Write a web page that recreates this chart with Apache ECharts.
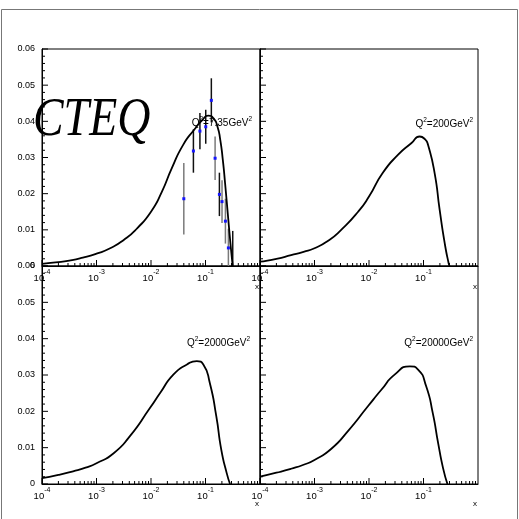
<!DOCTYPE html>
<html><head><meta charset="utf-8">
<script src="https://cdn.jsdelivr.net/npm/echarts@6/dist/echarts.min.js"></script>
<style>html,body{margin:0;padding:0;background:#fff}#c{width:519px;height:519px}</style>
</head><body><div id="c"></div>
<script>
// ---- data ----
const panelLabels = ['7.35', '200', '2000', '20000']; // Q^2 values in GeV^2
const yTickValues = [0, 0.01, 0.02, 0.03, 0.04, 0.05, 0.06];
const xTickExponents = [-4, -3, -2, -1];

// curve Q2 = 7.35
const c1x = [0.0001, 0.000178, 0.000316, 0.000562, 0.001, 0.00178, 0.00316, 0.00562, 0.01, 0.0158, 0.024, 0.0389, 0.063, 0.089, 0.112, 0.141, 0.166, 0.186, 0.209, 0.229, 0.26, 0.288, 0.316];
const c1y = [0.0006, 0.0010, 0.0015, 0.0023, 0.0034, 0.0049, 0.0072, 0.0105, 0.0150, 0.0205, 0.0270, 0.0335, 0.0378, 0.0405, 0.0416, 0.0408, 0.0385, 0.0350, 0.0290, 0.0228, 0.0134, 0.0060, 0.0];
// curve Q2 = 200
const c2x = [0.0001, 0.0002, 0.000372, 0.00063, 0.001, 0.00178, 0.00309, 0.00631, 0.01, 0.0178, 0.0339, 0.0603, 0.0851, 0.107, 0.121, 0.160, 0.198, 0.245, 0.290, 0.302];
const c2y = [0.0012, 0.0020, 0.0030, 0.0039, 0.0049, 0.0070, 0.0100, 0.0150, 0.0192, 0.0257, 0.0307, 0.0340, 0.0358, 0.0350, 0.0335, 0.0257, 0.0155, 0.0063, 0.0007, 0.0];
// curve Q2 = 2000
const c3x = [0.0001, 0.0002, 0.000372, 0.00063, 0.001, 0.00204, 0.00407, 0.00955, 0.0148, 0.0257, 0.0457, 0.0692, 0.0912, 0.120, 0.158, 0.195, 0.245, 0.282];
const c3y = [0.0016, 0.0025, 0.0035, 0.0045, 0.0057, 0.0084, 0.0131, 0.0209, 0.0251, 0.0301, 0.0329, 0.0338, 0.0329, 0.0278, 0.0186, 0.0094, 0.0030, 0.0];
// curve Q2 = 20000
const c4x = [0.0001, 0.0002, 0.000372, 0.00063, 0.001, 0.00204, 0.00407, 0.00955, 0.017, 0.0295, 0.0562, 0.0794, 0.112, 0.148, 0.186, 0.229, 0.275];
const c4y = [0.0020, 0.0031, 0.0042, 0.0053, 0.0066, 0.0097, 0.0145, 0.0214, 0.0260, 0.0301, 0.0324, 0.0315, 0.0269, 0.0195, 0.0112, 0.0043, 0.0];

// measured points (Q2 = 7.35), two sets
const blackX = [0.060, 0.079, 0.101, 0.128, 0.180, 0.316];
const blackY = [0.0318, 0.0373, 0.0385, 0.0458, 0.0198, -0.0010];
const blackE = [0.0060, 0.0050, 0.0047, 0.0061, 0.0060, 0.0107];
const grayX = [0.040, 0.150, 0.201, 0.232, 0.263];
const grayY = [0.0186, 0.0298, 0.0178, 0.0124, 0.0050];
const grayE = [0.0099, 0.0060, 0.0059, 0.0062, 0.0053];

// tick positions
const majorX = xTickExponents.map(e => Math.pow(10, e));
const minorX = [];
xTickExponents.forEach(e => { for (let k = 2; k <= 9; k++) minorX.push(k * Math.pow(10, e)); });
const minorY = [];
for (let i = 0; i < yTickValues.length - 1; i++) {
  for (let k = 1; k < 5; k++) minorY.push(yTickValues[i] + (yTickValues[i + 1] - yTickValues[i]) * k / 5);
}

// ---- chart ----
const FONT = 'Liberation Sans';
const curvesX = [c1x, c2x, c3x, c4x];
const curvesY = [c1y, c2y, c3y, c4y];
const gridDefs = [
  {left: 42, top: 49, width: 218, height: 217},
  {left: 260, top: 49, width: 218, height: 217},
  {left: 42, top: 266, width: 218, height: 218},
  {left: 260, top: 266, width: 218, height: 218}
];
const grid = gridDefs.map(g => Object.assign({show: true, borderColor: '#000', borderWidth: 1, backgroundColor: 'transparent', containLabel: false}, g));

const xAxis = gridDefs.map((g, i) => ({
  type: 'log', logBase: 10, min: 1e-4, max: 1, gridIndex: i,
  axisLine: {show: true, lineStyle: {color: '#000', width: 1}},
  axisTick: {show: false},
  minorTick: {show: false},
  splitLine: {show: false},
  axisLabel: {
    show: true, margin: 3, color: '#000',
    formatter: v => {
      const e = Math.round(Math.log10(v));
      if (xTickExponents.indexOf(e) < 0) return '';
      return '{b|10}{s|' + e + '}';
    },
    rich: {
      b: {fontSize: 9.5, fontFamily: FONT, color: '#000', lineHeight: 14, verticalAlign: 'bottom'},
      s: {fontSize: 7, fontFamily: FONT, color: '#000', lineHeight: 14, verticalAlign: 'top'}
    }
  }
}));

const yAxis = gridDefs.map((g, i) => ({
  type: 'value', min: yTickValues[0], max: yTickValues[yTickValues.length - 1], interval: 0.01, gridIndex: i,
  axisLine: {show: true, lineStyle: {color: '#000', width: 1}},
  axisTick: {show: false},
  minorTick: {show: false},
  splitLine: {show: false},
  axisLabel: {
    show: i % 2 === 0, margin: 7, color: '#000', fontSize: 9, fontFamily: FONT,
    formatter: v => (Math.abs(v) < 1e-9 ? '0' : v.toFixed(2))
  }
}));

function tickSeries(i, data, isX, len) {
  return {
    type: 'custom', xAxisIndex: i, yAxisIndex: i, silent: true, z: 4,
    encode: {x: 0, y: 1},
    data: data,
    renderItem: (params, api) => {
      const p = api.coord([api.value(0), api.value(1)]);
      const shape = isX ? {x1: p[0], y1: p[1], x2: p[0], y2: p[1] - len}
                        : {x1: p[0], y1: p[1], x2: p[0] + len, y2: p[1]};
      return {type: 'line', shape: shape, style: {stroke: '#000', lineWidth: 1}};
    }
  };
}

const series = [];
curvesX.forEach((xs, i) => {
  series.push({
    type: 'line', xAxisIndex: i, yAxisIndex: i, showSymbol: false, smooth: 0.6,
    lineStyle: {color: '#000', width: 1.8}, z: 5,
    data: xs.map((x, j) => [x, curvesY[i][j]])
  });
  series.push(tickSeries(i, majorX.map(x => [x, 0]), true, 6));
  series.push(tickSeries(i, minorX.map(x => [x, 0]), true, 3));
  series.push(tickSeries(i, yTickValues.map(y => [1e-4, y]), false, 6));
  series.push(tickSeries(i, minorY.map(y => [1e-4, y]), false, 3));
});

function errSeries(xs, ys, es, color) {
  return {
    type: 'custom', xAxisIndex: 0, yAxisIndex: 0, z: 3,
    encode: {x: 0, y: 1},
    data: xs.map((x, j) => [x, ys[j], es[j]]),
    renderItem: (params, api) => {
      const x = api.value(0), y = api.value(1), e = api.value(2);
      const top = api.coord([x, y + e]);
      const bot = api.coord([x, Math.max(y - e, 0)]);
      const c = api.coord([x, y]);
      const children = [{type: 'line', shape: {x1: top[0], y1: top[1], x2: bot[0], y2: bot[1]}, style: {stroke: color, lineWidth: 1.5}}];
      if (y >= 0) children.push({type: 'rect', shape: {x: c[0] - 1.5, y: c[1] - 1.5, width: 3, height: 3}, style: {fill: '#1414ff'}});
      return {type: 'group', children: children};
    }
  };
}
series.push(errSeries(grayX, grayY, grayE, '#7a7a7a'));
series.push(errSeries(blackX, blackY, blackE, '#111'));

function qLabel(val, xr, yc) {
  return {
    type: 'text', x: xr, y: yc, z: 10,
    style: {
      text: '{q|Q}{s|2}{q|=' + val + 'GeV}{s|2}', align: 'right', verticalAlign: 'middle',
      rich: {
        q: {fontSize: 10, fontFamily: FONT, fill: '#000', lineHeight: 12, verticalAlign: 'bottom'},
        s: {fontSize: 6.5, fontFamily: FONT, fill: '#000', lineHeight: 12, verticalAlign: 'top'}
      }
    }
  };
}
function xName(x, y) {
  return {type: 'text', x: x, y: y, z: 10, style: {text: 'x', fontSize: 8, fontFamily: FONT, fill: '#000', align: 'center', verticalAlign: 'middle'}};
}

const graphic = [
  {type: 'rect', shape: {x: 1.5, y: 9.5, width: 516, height: 520}, style: {fill: 'none', stroke: '#777', lineWidth: 1}, z: 0},
  {type: 'text', x: 33, y: 94, scaleX: 0.85, z: 10, style: {text: 'CTEQ', font: 'italic 54px "Liberation Serif"', fill: '#000'}},
  qLabel(panelLabels[0], 252, 122),
  qLabel(panelLabels[1], 473, 123),
  qLabel(panelLabels[2], 250, 342),
  qLabel(panelLabels[3], 473, 342),
  xName(257, 287), xName(475, 287), xName(257, 504), xName(475, 504)
];

const chart = echarts.init(document.getElementById('c'), null, {renderer: 'canvas'});
chart.setOption({animation: false, backgroundColor: '#fff', grid, xAxis, yAxis, series, graphic});
</script></body></html>
